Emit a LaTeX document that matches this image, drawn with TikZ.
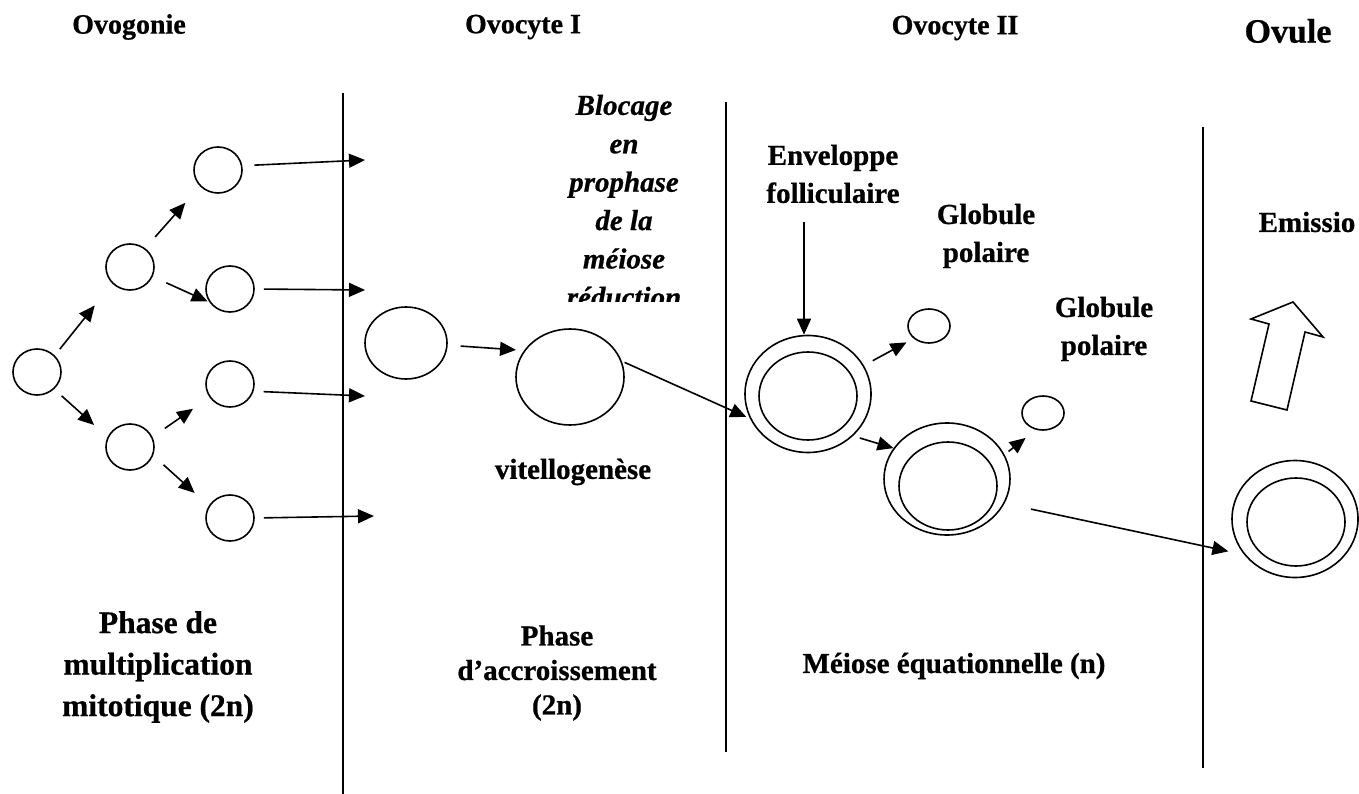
\documentclass[tikz,border=0pt]{standalone}
\usepackage{fontspec}
\setmainfont{Liberation Serif}[BoldFeatures={FakeBold=0.7}, BoldItalicFeatures={FakeBold=0.7}]
\usetikzlibrary{arrows.meta, shapes.geometric}

\begin{document}
\begin{tikzpicture}[x=1pt, y=-1pt,
		cell/.style={draw, ellipse, line width=1.6pt, inner sep=0pt},
		gon/.style={cell, minimum width=48pt, minimum height=46pt},
		polo/.style={cell, minimum width=42pt, minimum height=34pt},
		outring/.style={cell, minimum width=126pt, minimum height=117pt},
		inring/.style={cell, minimum width=98pt, minimum height=88pt},
		arr/.style={line width=1.6pt, -{Triangle[length=16pt, width=14pt]}},
		wall/.style={line width=1.7pt},
		lbl/.style={font=\fontsize{29}{38}\selectfont\bfseries, align=center, inner sep=0pt},
		head/.style={font=\fontsize{28}{34}\selectfont\bfseries, inner sep=0pt}]
	\useasboundingbox (0,0) rectangle (1359,794);

	\draw[wall]
		(343,93) -- (343,794)
		(726,102) -- (726,752)
		(1203,127) -- (1203,768);

	\draw
		(129,27) node[head] (tgon) {Ovogonie}
		(523,27) node[head] (tcyt1) {Ovocyte I}
		(955,28) node[head] (tcyt2) {Ovocyte II}
		(1288,31) node[head, font=\fontsize{34}{40}\selectfont\bfseries] (tovu) {Ovule};

	\draw
		(37,372) node[gon] (og) {}
		(130,267) node[gon] (ov1a) {}
		(130,447) node[gon] (ov1b) {}
		(218,170) node[gon] (ov2a) {}
		(230,289) node[gon] (ov2b) {}
		(230,384) node[gon] (ov2c) {}
		(230,518) node[gon] (ov2d) {};

	\draw
		(406,343) node[cell, minimum width=82pt, minimum height=72pt] (oc1) {}
		(570,377) node[cell, minimum width=108pt, minimum height=96pt] (oc1g) {};

	\draw
		(808,394) node[outring] (oc2out) {}
		(808,396) node[inring] (oc2in) {}
		(947,479) node[outring, minimum height=112pt] (oc2bout) {}
		(948,486) node[inring] (oc2bin) {}
		(929,326) node[polo] (gp1) {}
		(1043,413) node[polo] (gp2) {}
		(1295,519) node[outring] (ovout) {}
		(1296,522) node[inring] (ovin) {};

	\coordinate (e1) at (365,160);
	\coordinate (e2) at (365,290);
	\coordinate (e3) at (365,396);
	\coordinate (e4) at (374,516);
	\coordinate (envtop) at (804,222);

	\draw[arr, shorten <=8pt, shorten >=28pt] (og.43) -- (ov1a.223);
	\draw[arr, shorten <=10pt, shorten >=18pt] (og.-45) -- (ov1b.156);
	\draw[arr, shorten <=15pt, shorten >=22pt] (ov1a.51) -- (ov2a.222);
	\draw[arr, shorten <=15pt, shorten >=2pt] (ov1a.-23) -- (ov2b.213);
	\draw[arr, shorten <=15pt, shorten >=20pt] (ov1b.24) -- (ov2c.213);
	\draw[arr, shorten <=14pt, shorten >=19pt] (ov1b.-20) -- (ov2d.150);

	\draw[arr, shorten <=12pt] (ov2a.10) -- (e1);
	\draw[arr, shorten <=9pt] (ov2b.east) -- (e2);
	\draw[arr, shorten <=10pt] (ov2c.-17) -- (e3);
	\draw[arr, shorten <=9pt] (ov2d.east) -- (e4);

	\draw[arr, shorten <=13pt, shorten >=8pt] (oc1.-3) -- (oc1g.150);
	\draw[arr, shorten <=3pt, shorten >=4pt] (oc1g.17) -- (oc2out.203);
	\draw[arr] (envtop) -- (envtop |- oc2out.north);
	\draw[arr, shorten <=10pt, shorten >=8pt] (oc2out.27) -- (gp1.219);
	\draw[arr, shorten <=7pt] (oc2out.-43) -- (oc2bout.150);
	\draw[arr, shorten <=5pt, shorten >=13pt] (oc2bout.23) -- (gp2.247);
	\draw[arr, shorten <=27pt, shorten >=16pt] (oc2bout.-23) -- (ovout.215);

	\draw[line width=1.6pt]
		(1293,302) -- (1323,337) -- (1305,332) -- (1287,410) -- (1251,401) -- (1269,324) -- (1251,319) -- cycle;

	\begin{scope}
		\clip (540,80) rectangle (720,301);
		\node[lbl, font=\fontsize{29}{38.4}\selectfont\bfseries\itshape] (bloc) at (624,201) {Blocage\\en\\prophase\\de la\\méiose\\réduction};
	\end{scope}

	\draw
		(833,174) node[lbl] (env) {Enveloppe\\folliculaire}
		(986,236) node[lbl] (glob1) {Globule\\polaire}
		(1104,329) node[lbl] (glob2) {Globule\\polaire}
		(1307,222) node[lbl] (emis) {Emissio}
		(573,472) node[lbl] (vit) {vitellogenèse}
		(158,667) node[lbl, font=\fontsize{31.5}{41.5}\selectfont\bfseries] (pmul) {Phase de\\multiplication\\mitotique (2n)}
		(557,673) node[lbl, font=\fontsize{29}{34.5}\selectfont\bfseries] (pacc) {Phase\\d’accroissement\\(2n)}
		(954,666) node[lbl] (meq) {Méiose équationnelle (n)};
\end{tikzpicture}
\end{document}
